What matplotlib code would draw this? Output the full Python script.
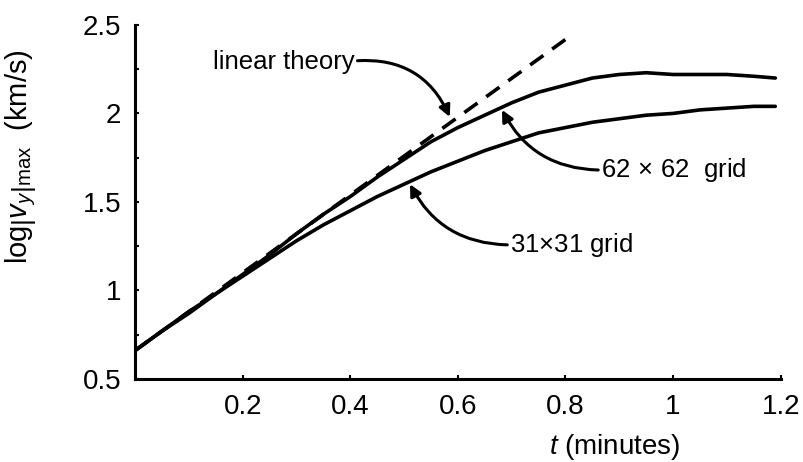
import matplotlib
matplotlib.use('Agg')
import matplotlib.pyplot as plt
from matplotlib.ticker import MultipleLocator

plt.rcParams['font.family'] = ['Liberation Sans', 'DejaVu Sans']
plt.rcParams['mathtext.fontset'] = 'custom'
plt.rcParams['mathtext.rm'] = 'Liberation Sans'
plt.rcParams['mathtext.it'] = 'Liberation Sans:italic'

# time (minutes) and log|v_y|max
t = [0, 0.05, 0.1, 0.15, 0.2, 0.25, 0.3, 0.35, 0.4, 0.45, 0.5, 0.55, 0.6,
     0.65, 0.7, 0.75, 0.8, 0.85, 0.9, 0.95, 1.0, 1.05, 1.1, 1.15, 1.19]
v_31 = [0.66, 0.77, 0.87, 0.98, 1.08, 1.18, 1.28, 1.37, 1.45, 1.53, 1.60,
        1.67, 1.73, 1.79, 1.84, 1.89, 1.92, 1.95, 1.97, 1.99, 2.00, 2.02,
        2.03, 2.04, 2.04]
v_62 = [0.66, 0.77, 0.88, 0.98, 1.09, 1.20, 1.32, 1.43, 1.53, 1.64, 1.74,
        1.84, 1.92, 1.99, 2.06, 2.12, 2.16, 2.20, 2.22, 2.23, 2.22, 2.22,
        2.22, 2.21, 2.20]
t_lin = [0, 0.81]
v_lin = [0.66, 2.44]

xticks = [0.2, 0.4, 0.6, 0.8, 1.0, 1.2]
xticklabels = ['0.2', '0.4', '0.6', '0.8', '1', '1.2']
yticks = [0.5, 1.0, 1.5, 2.0, 2.5]
yticklabels = ['0.5', '1', '1.5', '2', '2.5']

fig = plt.figure(figsize=(8.04, 4.62), dpi=100)
ax = fig.add_axes([0.168, 0.18, 0.803, 0.766])

ax.plot(t, v_62, color='black', lw=2.6, solid_capstyle='round')
ax.plot(t, v_31, color='black', lw=2.6, solid_capstyle='round')
ax.plot(t_lin, v_lin, color='black', lw=2.6, dashes=(4.5, 3))

ax.set_xlim(0, 1.2)
ax.set_ylim(0.5, 2.5)
ax.set_xticks(xticks)
ax.set_xticklabels(xticklabels)
ax.set_yticks(yticks)
ax.set_yticklabels(yticklabels)
ax.yaxis.set_minor_locator(MultipleLocator(0.25))

for s in ['top', 'right']:
    ax.spines[s].set_visible(False)
for s in ['left', 'bottom']:
    ax.spines[s].set_linewidth(2.2)

ax.tick_params(which='both', direction='in', length=3, width=1.5,
               labelsize=20)
ax.tick_params(axis='x', pad=11)
ax.tick_params(axis='y', pad=10)

ax.set_xlabel('$t$ (minutes)', fontsize=20)
ax.xaxis.set_label_coords(0.743, -0.15)
ax.set_ylabel(r'$\mathrm{log}\left|v_y\right|_{\mathrm{max}}$  (km/s)',
              fontsize=21)
ax.yaxis.set_label_coords(-0.15, 0.627)

arrow = dict(arrowstyle='-|>', color='black', lw=2.2, mutation_scale=17,
             shrinkA=0, shrinkB=0)

ax.annotate('linear theory', xy=(0.585, 1.98), xytext=(0.145, 2.29),
            fontsize=18.5, va='center', ha='left',
            arrowprops=dict(arrow, connectionstyle='arc3,rad=-0.35',
                            relpos=(1.0, 0.55)))
ax.annotate(r'62$\,\times\,$62  grid', xy=(0.682, 2.02), xytext=(0.866, 1.68),
            fontsize=18.5, va='center', ha='left',
            arrowprops=dict(arrow, connectionstyle='arc3,rad=-0.3',
                            relpos=(0.0, 0.5)))
ax.annotate(r'31$\times$31 grid', xy=(0.511, 1.60), xytext=(0.697, 1.257),
            fontsize=18.5, va='center', ha='left',
            arrowprops=dict(arrow, connectionstyle='arc3,rad=-0.3',
                            relpos=(0.0, 0.5)))

fig.savefig('out.png', dpi=100)
